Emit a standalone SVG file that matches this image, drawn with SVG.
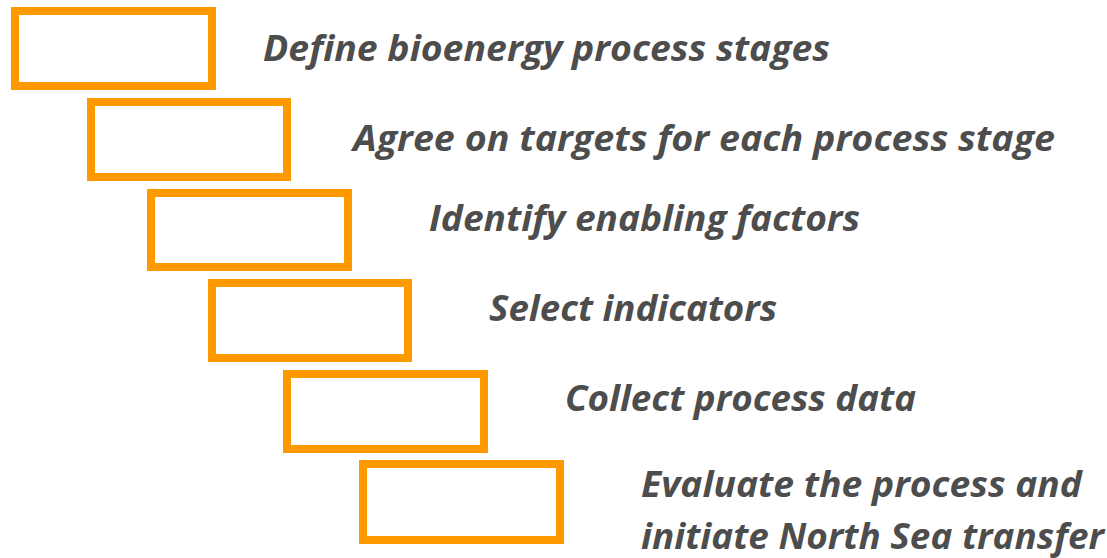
<svg xmlns="http://www.w3.org/2000/svg" width="1107" height="558" viewBox="0 0 1107 558">
<style>
.box{fill:#FFFFFF;stroke:#FF9900;stroke-width:8}
.lbl{font-family:"Open Sans","Liberation Sans",sans-serif;font-weight:700;font-style:italic;font-size:36px;fill:#4D4D4D}
</style>
<rect width="1107" height="558" fill="#FFFFFF"/>
<g id="step1"><rect class="box" x="15" y="11" width="197" height="75"/><text class="lbl" x="263" y="61" textLength="567" lengthAdjust="spacingAndGlyphs">Define bioenergy process stages</text></g>
<g id="step2"><rect class="box" x="91" y="102" width="196" height="75"/><text class="lbl" x="353" y="151" textLength="702" lengthAdjust="spacingAndGlyphs">Agree on targets for each process stage</text></g>
<g id="step3"><rect class="box" x="151" y="193" width="197" height="74"/><text class="lbl" x="429" y="231" textLength="431" lengthAdjust="spacingAndGlyphs">Identify enabling factors</text></g>
<g id="step4"><rect class="box" x="212" y="283" width="196" height="75"/><text class="lbl" x="489" y="321" textLength="288" lengthAdjust="spacingAndGlyphs">Select indicators</text></g>
<g id="step5"><rect class="box" x="287" y="374" width="197" height="75"/><text class="lbl" x="565" y="411" textLength="351" lengthAdjust="spacingAndGlyphs">Collect process data</text></g>
<g id="step6"><rect class="box" x="363" y="464" width="197" height="76"/><text class="lbl" x="641" y="497" textLength="441" lengthAdjust="spacingAndGlyphs">Evaluate the process and</text><text class="lbl" x="641" y="549" textLength="463" lengthAdjust="spacingAndGlyphs">initiate North Sea transfer</text></g>
<g id="connectors"></g>
</svg>
